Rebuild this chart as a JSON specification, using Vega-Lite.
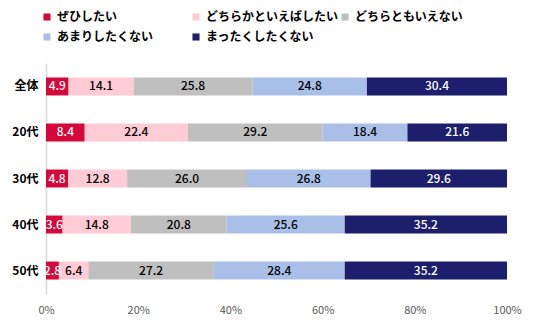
{
  "$schema": "https://vega.github.io/schema/vega-lite/v6.json",
  "width": 461,
  "height": 231,
  "autosize": "none",
  "padding": {"left": 46, "top": 63, "right": 29, "bottom": 31},
  "background": "white",
  "config": {"view": {"stroke": null}, "font": "Noto Sans CJK JP"},
  "data": {"values": [
    {"group": "全体", "cat": "ぜひしたい", "o": 1, "value": 4.9},
    {"group": "全体", "cat": "どちらかといえばしたい", "o": 2, "value": 14.1},
    {"group": "全体", "cat": "どちらともいえない", "o": 3, "value": 25.8},
    {"group": "全体", "cat": "あまりしたくない", "o": 4, "value": 24.8},
    {"group": "全体", "cat": "まったくしたくない", "o": 5, "value": 30.4},
    {"group": "20代", "cat": "ぜひしたい", "o": 1, "value": 8.4},
    {"group": "20代", "cat": "どちらかといえばしたい", "o": 2, "value": 22.4},
    {"group": "20代", "cat": "どちらともいえない", "o": 3, "value": 29.2},
    {"group": "20代", "cat": "あまりしたくない", "o": 4, "value": 18.4},
    {"group": "20代", "cat": "まったくしたくない", "o": 5, "value": 21.6},
    {"group": "30代", "cat": "ぜひしたい", "o": 1, "value": 4.8},
    {"group": "30代", "cat": "どちらかといえばしたい", "o": 2, "value": 12.8},
    {"group": "30代", "cat": "どちらともいえない", "o": 3, "value": 26.0},
    {"group": "30代", "cat": "あまりしたくない", "o": 4, "value": 26.8},
    {"group": "30代", "cat": "まったくしたくない", "o": 5, "value": 29.6},
    {"group": "40代", "cat": "ぜひしたい", "o": 1, "value": 3.6},
    {"group": "40代", "cat": "どちらかといえばしたい", "o": 2, "value": 14.8},
    {"group": "40代", "cat": "どちらともいえない", "o": 3, "value": 20.8},
    {"group": "40代", "cat": "あまりしたくない", "o": 4, "value": 25.6},
    {"group": "40代", "cat": "まったくしたくない", "o": 5, "value": 35.2},
    {"group": "50代", "cat": "ぜひしたい", "o": 1, "value": 2.8},
    {"group": "50代", "cat": "どちらかといえばしたい", "o": 2, "value": 6.4},
    {"group": "50代", "cat": "どちらともいえない", "o": 3, "value": 27.2},
    {"group": "50代", "cat": "あまりしたくない", "o": 4, "value": 28.4},
    {"group": "50代", "cat": "まったくしたくない", "o": 5, "value": 35.2}
  ]},
  "transform": [
    {"stack": "value", "groupby": ["group"], "sort": [{"field": "o", "order": "ascending"}], "as": ["s0", "s1"], "offset": "normalize"},
    {"calculate": "(datum.s0 + datum.s1) / 2", "as": "mid"}
  ],
  "encoding": {
    "y": {
      "field": "group", "type": "nominal",
      "sort": ["全体", "20代", "30代", "40代", "50代"],
      "scale": {"paddingInner": 0.61, "paddingOuter": 0.315},
      "axis": {"title": null, "ticks": false, "domainColor": "#d9d9d9", "domainWidth": 1.5, "labelFontSize": 12, "labelFontWeight": "bold", "labelColor": "#000000", "labelPadding": 8}
    }
  },
  "layer": [
    {
      "mark": {"type": "bar"},
      "encoding": {
        "x": {"field": "s0", "type": "quantitative", "scale": {"domain": [0, 1]},
          "axis": {"title": null, "format": "%", "values": [0, 0.2, 0.4, 0.6, 0.8, 1], "domain": false, "ticks": false, "grid": false, "labelColor": "#595959", "labelFontSize": 11, "labelPadding": 10, "labelFlush": false}},
        "x2": {"field": "s1"},
        "color": {
          "field": "cat", "type": "nominal",
          "scale": {
            "domain": ["ぜひしたい", "どちらかといえばしたい", "どちらともいえない", "あまりしたくない", "まったくしたくない"],
            "range": ["#d6083b", "#ffccd6", "#bfbfbf", "#a9bfe7", "#1d1f6d"]
          },
          "legend": {"title": null, "orient": "none", "legendX": -5, "legendY": -52, "direction": "horizontal", "columns": 3, "gridAlign": "all", "columnPadding": 0, "rowPadding": 8, "symbolType": "square", "symbolSize": 50, "symbolStrokeWidth": 0, "labelFontSize": 12, "labelFontWeight": "bold", "labelColor": "#000000", "labelOffset": 4, "labelLimit": 300}
        }
      }
    },
    {
      "mark": {"type": "text", "fontSize": 12, "fontWeight": 500},
      "encoding": {
        "x": {"field": "mid", "type": "quantitative"},
        "text": {"field": "value", "type": "quantitative", "format": ".1f"},
        "color": {"condition": {"test": "datum.o == 1 || datum.o == 5", "value": "#ffffff"}, "value": "#000000"}
      }
    }
  ]
}
